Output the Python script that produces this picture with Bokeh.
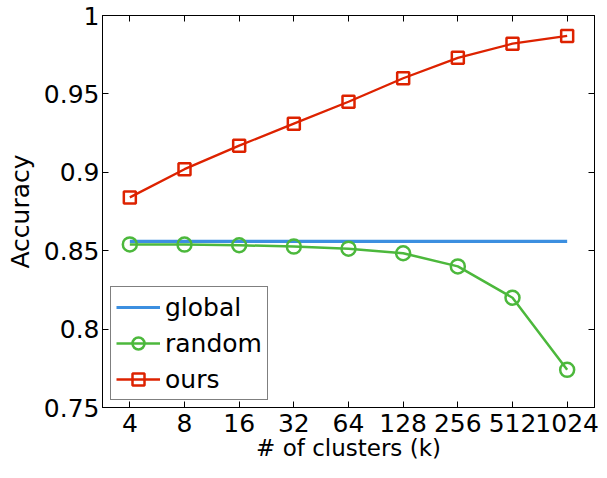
from bokeh.plotting import figure
from bokeh.models import (FactorRange, Range1d, FixedTicker, LinearAxis, CategoricalAxis,
                          Legend, LegendItem, CustomLabelingPolicy)
from bokeh.embed import file_html
from bokeh.resources import INLINE

clusters = ["4", "8", "16", "32", "64", "128", "256", "512", "1024"]
global_acc = [0.856] * 9
random_acc = [0.854, 0.8539, 0.8535, 0.8526, 0.8513, 0.8484, 0.840, 0.820, 0.774]
ours_acc = [0.884, 0.902, 0.917, 0.931, 0.945, 0.960, 0.973, 0.982, 0.987]
y_ticks = [0.75, 0.8, 0.85, 0.9, 0.95, 1.0]
y_tick_labels = ["0.75", "0.8", "0.85", "0.9", "0.95", "1"]

FONT = "DejaVu Sans"
FS = "25px"

p = figure(width=599, height=470, x_range=FactorRange(factors=clusters),
           y_range=Range1d(0.75, 1.0), output_backend="svg", toolbar_location=None,
           min_border_left=102, min_border_right=2, min_border_top=15, min_border_bottom=63)
p.grid.visible = False
p.outline_line_color = "black"
p.outline_line_width = 1
p.background_fill_color = "white"
p.border_fill_color = "white"

ya = p.yaxis[0]
ya.ticker = FixedTicker(ticks=y_ticks, minor_ticks=[])
ya.major_label_overrides = {t: l for t, l in zip(y_ticks, y_tick_labels)}
ya.axis_label = "Accuracy"

xa = p.xaxis[0]
xa.axis_label = "# of clusters (k)"

for ax in (xa, ya):
    ax.major_label_text_font = FONT
    ax.major_label_text_font_size = FS
    ax.major_label_text_color = "black"
    ax.axis_label_text_font = FONT
    ax.axis_label_text_font_style = "normal"
    ax.axis_label_text_color = "black"
    ax.major_tick_in = 6
    ax.major_tick_out = 0
    ax.minor_tick_in = 0
    ax.minor_tick_out = 0
    ax.axis_line_color = "black"
    ax.major_tick_line_color = "black"
ya.axis_label_text_font_size = FS
xa.axis_label_text_font_size = "23px"
ya.major_label_standoff = 3
ya.axis_label_standoff = 6
xa.major_label_standoff = 6
xa.axis_label_standoff = 0

HIDE = """
for (const i of indices) indices.unset(i)
return indices
"""

ra = LinearAxis(ticker=FixedTicker(ticks=y_ticks, minor_ticks=[]),
                major_label_policy=CustomLabelingPolicy(code=HIDE),
                major_label_text_font_size="1px",
                major_tick_in=6, major_tick_out=0, minor_tick_in=0, minor_tick_out=0,
                major_label_standoff=0,
                axis_line_color="black", major_tick_line_color="black")
p.add_layout(ra, "right")
ta = CategoricalAxis(major_label_policy=CustomLabelingPolicy(code=HIDE),
                     major_label_text_font_size="1px",
                     major_tick_in=6, major_tick_out=0, major_label_standoff=0,
                     axis_line_color="black", major_tick_line_color="black")
p.add_layout(ta, "above")

BLUE = "#3C8FE0"
GREEN = "#4CB83C"
RED = "#DD2200"

gl = p.line(clusters, global_acc, line_color=BLUE, line_width=3.2)
rl = p.line(clusters, random_acc, line_color=GREEN, line_width=2.5)
rs = p.scatter(clusters, random_acc, marker="circle", size=14, line_color=GREEN,
               line_width=2.5, fill_color=None)
ol = p.line(clusters, ours_acc, line_color=RED, line_width=2.3)
os_ = p.scatter(clusters, ours_acc, marker="square", size=12, line_color=RED,
                line_width=2.5, fill_color=None)

legend = Legend(items=[LegendItem(label="global", renderers=[gl]),
                       LegendItem(label="random", renderers=[rl, rs]),
                       LegendItem(label="ours", renderers=[ol, os_])],
                location=(8, 7), margin=0, padding=5, spacing=6,
                glyph_width=44, glyph_height=30, label_height=30, label_standoff=5,
                label_text_font=FONT, label_text_font_size=FS, label_text_color="black",
                border_line_color="black", border_line_width=1.2,
                background_fill_color="white", background_fill_alpha=1.0)
p.add_layout(legend, "center")

open("out.html", "w").write(file_html(p, INLINE))
